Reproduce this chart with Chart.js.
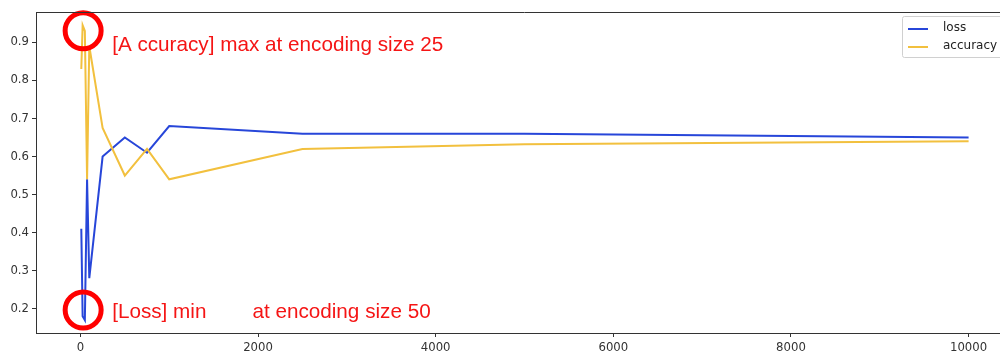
<!DOCTYPE html>
<html>
<head>
<meta charset="utf-8">
<script src="https://cdn.jsdelivr.net/npm/chart.js@4"></script>
<style>
  html, body { margin: 0; padding: 0; background: #fff; overflow: hidden; }
</style>
</head>
<body>
<canvas id="lossChart" width="1014" height="356"></canvas>
<script>
// values
const encodingSizes = [10, 25, 50, 75, 100, 250, 500, 750, 1000, 2500, 5000, 10000];
const lossValues = [0.41, 0.18, 0.17, 0.54, 0.28, 0.60, 0.65, 0.61, 0.68, 0.66, 0.66, 0.65];
const accuracyValues = [0.83, 0.945, 0.93, 0.54, 0.89, 0.675, 0.55, 0.62, 0.54, 0.62, 0.632, 0.64];
const xTicks = [0, 2000, 4000, 6000, 8000, 10000];
const yTicks = [0.2, 0.3, 0.4, 0.5, 0.6, 0.7, 0.8, 0.9];
const accuracyNote = '[A ccuracy] max at encoding size 25';
const lossNote = '[Loss] min        at encoding size 50';

const lossColor = '#2746d9';
const accColor = '#f2c03e';
const axisColor = '#333';
const tickFont = { family: 'DejaVu Sans', size: 11.7 };

const toPoints = (ys) => encodingSizes.map((x, i) => ({ x: x, y: ys[i] }));

// top/right frame like matplotlib's axes box
const framePlugin = {
    id: 'frame',
    afterDraw(chart) {
        const { ctx, chartArea: a } = chart;
        ctx.save();
        ctx.strokeStyle = axisColor;
        ctx.lineWidth = 1;
        ctx.beginPath();
        ctx.moveTo(a.left, a.top + 0.5);
        ctx.lineTo(a.right, a.top + 0.5);
        ctx.lineTo(a.right - 0.5, a.bottom);
        ctx.stroke();
        ctx.restore();
    }
};

// legend box in the upper right corner
const legendBoxPlugin = {
    id: 'legendBox',
    afterDraw(chart) {
        const ctx = chart.ctx;
        const a = chart.chartArea;
        const x0 = 902.5, y0 = 16.5;
        ctx.save();
        ctx.fillStyle = 'rgba(255,255,255,0.8)';
        ctx.strokeStyle = '#d0d0d0';
        ctx.lineWidth = 1;
        ctx.beginPath();
        ctx.roundRect(x0, y0, a.right - 6 - x0, 41, 2);
        ctx.fill();
        ctx.stroke();
        ctx.font = '12px "DejaVu Sans"';
        ctx.textBaseline = 'middle';
        chart.data.datasets.forEach((ds, i) => {
            const y = 29 + i * 18;
            ctx.strokeStyle = ds.borderColor;
            ctx.lineWidth = 2;
            ctx.beginPath();
            ctx.moveTo(908, y);
            ctx.lineTo(928, y);
            ctx.stroke();
            ctx.fillStyle = '#222';
            ctx.fillText(ds.label, 943, y - 1);
        });
        ctx.restore();
    }
};

// red circles and notes on accuracy max / loss min
const notesPlugin = {
    id: 'notes',
    afterDatasetsDraw(chart) {
        const ctx = chart.ctx;
        const xs = chart.scales.x, ys = chart.scales.y;
        const iMax = accuracyValues.indexOf(Math.max(...accuracyValues));
        const iMin = lossValues.indexOf(Math.min(...lossValues));
        const marks = [
            { x: encodingSizes[iMax], y: accuracyValues[iMax], dx: 0.5, dy: 5.5, text: accuracyNote, ty: 20 },
            { x: encodingSizes[iMin], y: lossValues[iMin], dx: -1.7, dy: -10, text: lossNote, ty: 8 }
        ];
        ctx.save();
        marks.forEach(m => {
            const cx = xs.getPixelForValue(m.x) + m.dx;
            const cy = ys.getPixelForValue(m.y) + m.dy;
            ctx.strokeStyle = '#f00';
            ctx.lineWidth = 5;
            ctx.beginPath();
            ctx.arc(cx, cy, 18, 0, Math.PI * 2);
            ctx.stroke();
            ctx.fillStyle = '#f51515';
            ctx.font = '20.7px "Liberation Sans"';
            ctx.textBaseline = 'alphabetic';
            ctx.fillText(m.text, cx + 29, cy + m.ty);
        });
        ctx.restore();
    }
};

const ctx = document.getElementById('lossChart').getContext('2d');
const lossChart = new Chart(ctx, {
    type: 'line',
    data: {
        datasets: [{
            label: 'loss',
            data: toPoints(lossValues),
            borderColor: lossColor,
            borderWidth: 2,
            pointRadius: 0,
            order: 1
        }, {
            label: 'accuracy',
            data: toPoints(accuracyValues),
            borderColor: accColor,
            borderWidth: 2,
            pointRadius: 0,
            order: 0
        }]
    },
    options: {
        responsive: false,
        animation: false,
        layout: { padding: { top: 12, right: 1, left: 0, bottom: 0 } },
        plugins: {
            legend: { display: false },
            tooltip: { enabled: false }
        },
        scales: {
            x: {
                type: 'linear',
                min: -500,
                max: 10500,
                afterBuildTicks: s => { s.ticks = xTicks.map(v => ({ value: v })); },
                afterFit: s => { s.height = 23; },
                ticks: { font: tickFont, color: axisColor, padding: 4, maxRotation: 0, autoSkip: false, callback: v => String(v) },
                grid: { drawOnChartArea: false, tickLength: 4, color: axisColor },
                border: { color: axisColor, width: 1 }
            },
            y: {
                min: 0.136,
                max: 0.98,
                afterBuildTicks: s => { s.ticks = yTicks.map(v => ({ value: v })); },
                afterFit: s => { s.width = 36; },
                ticks: { font: tickFont, color: axisColor, padding: 3, callback: v => v.toFixed(1) },
                grid: { drawOnChartArea: false, tickLength: 4, color: axisColor },
                border: { color: axisColor, width: 1 }
            }
        }
    },
    plugins: [framePlugin, legendBoxPlugin, notesPlugin]
});
</script>
</body>
</html>
